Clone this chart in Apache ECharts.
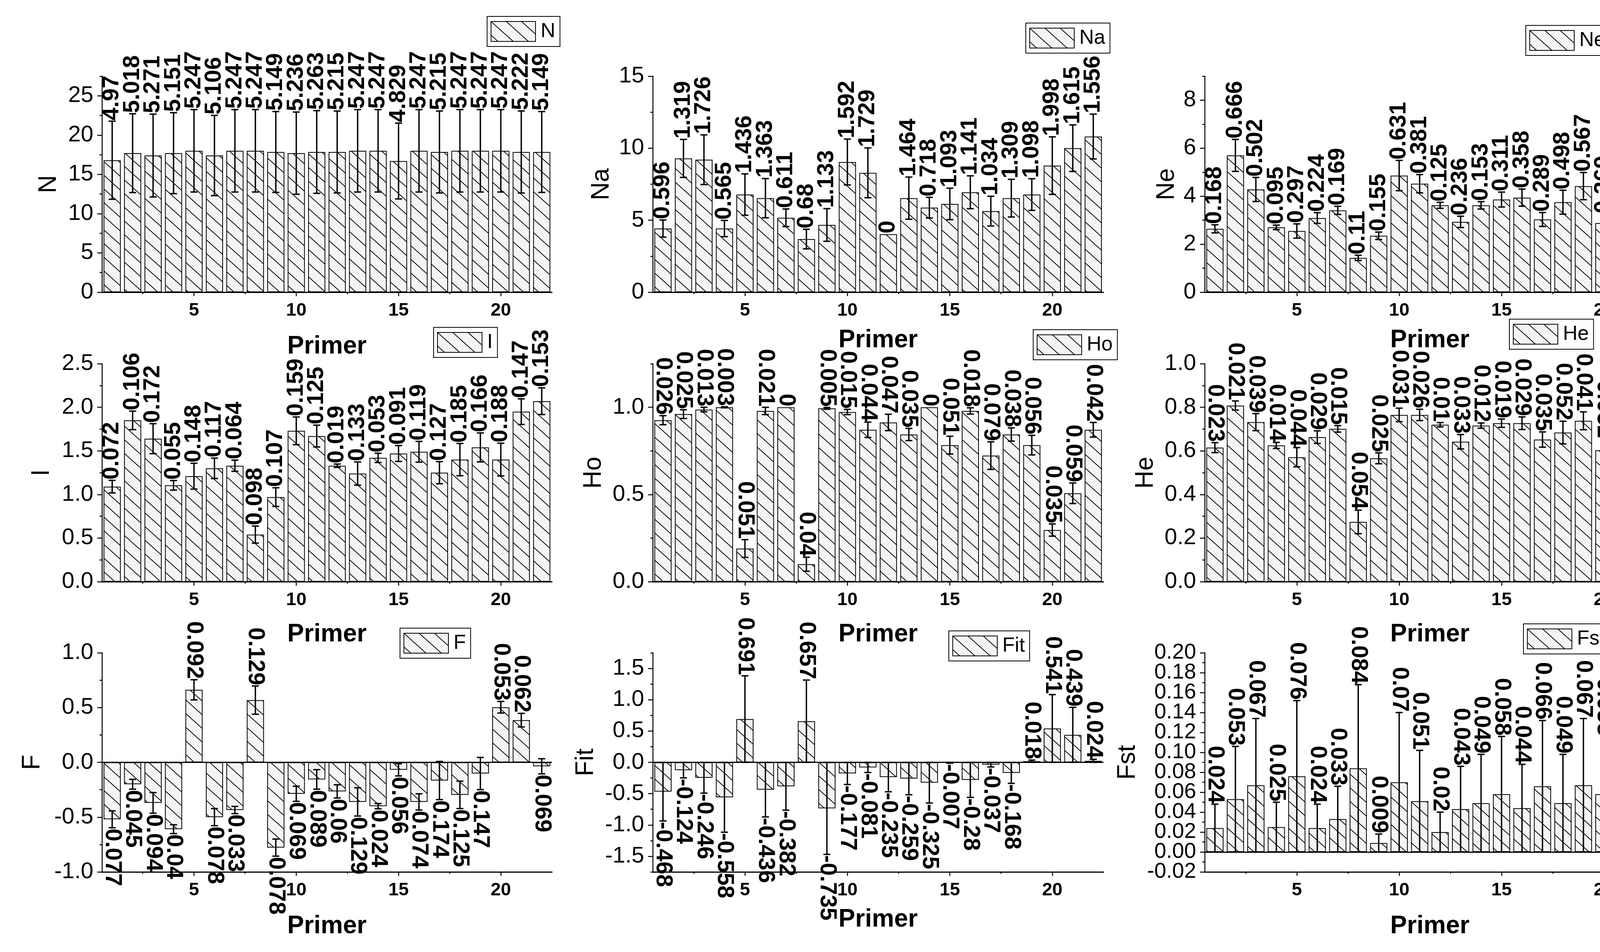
<!DOCTYPE html>
<html><head><meta charset="utf-8">
<script src="https://cdn.jsdelivr.net/npm/echarts@6/dist/echarts.min.js"></script>
<style>html,body{margin:0;padding:0;background:#fff}#c{width:4284px;height:2437px}</style>
</head><body><div id="c"></div>
<script>
// ---------------- data ----------------
const primer = [1,2,3,4,5,6,7,8,9,10,11,12,13,14,15,16,17,18,19,20,21,22];

const nMean = [16.8,17.7,17.4,17.7,18.0,17.4,18.0,18.0,17.85,17.7,17.85,17.85,18.0,18.0,16.7,18.0,17.85,18.0,18.0,18.0,17.85,17.85];
const nSd   = [4.97,5.018,5.271,5.151,5.247,5.106,5.247,5.247,5.149,5.236,5.263,5.215,5.247,5.247,4.829,5.247,5.215,5.247,5.247,5.247,5.222,5.149];

const naMean = [4.42,9.29,9.2,4.42,6.78,6.53,5.17,3.69,4.67,9.04,8.29,4.03,6.53,5.87,6.13,6.94,5.63,6.53,6.78,8.79,10.0,10.81];
const naSd   = [0.596,1.319,1.726,0.565,1.436,1.363,0.611,0.68,1.133,1.592,1.729,0,1.464,0.718,1.093,1.141,1.034,1.309,1.098,1.998,1.615,1.556];

const neMean = [2.64,5.70,4.28,2.70,2.55,3.09,3.41,1.43,2.35,4.86,4.52,3.62,2.93,3.62,3.86,3.94,3.03,3.75,4.42,2.88,6.22,7.24];
const neSd   = [0.168,0.666,0.502,0.095,0.297,0.224,0.169,0.11,0.155,0.631,0.381,0.125,0.236,0.153,0.311,0.358,0.289,0.498,0.567,0.369,0.681,0.814];

const iMean = [1.09,1.85,1.64,1.105,1.21,1.30,1.33,0.54,0.97,1.73,1.67,1.33,1.24,1.42,1.47,1.49,1.25,1.40,1.54,1.40,1.95,2.07];
const iSd   = [0.072,0.106,0.172,0.055,0.148,0.117,0.064,0.098,0.107,0.159,0.125,0.019,0.133,0.053,0.091,0.119,0.127,0.185,0.166,0.188,0.147,0.153];

const hoMean = [0.926,0.961,0.987,1.0,0.19,0.979,1.0,0.10,0.994,0.973,0.871,0.913,0.844,1.0,0.783,0.979,0.723,0.844,0.783,0.296,0.507,0.871];
const hoSd   = [0.026,0.025,0.013,0.003,0.051,0.021,0,0.04,0.005,0.015,0.044,0.047,0.035,0,0.051,0.018,0.079,0.038,0.056,0.035,0.059,0.042];

const heMean = [0.615,0.808,0.732,0.625,0.571,0.663,0.701,0.274,0.566,0.765,0.765,0.72,0.642,0.716,0.727,0.727,0.652,0.684,0.738,0.603,0.823,0.84];
const heSd   = [0.023,0.021,0.039,0.014,0.044,0.029,0.015,0.054,0.025,0.031,0.026,0.01,0.033,0.012,0.019,0.029,0.035,0.052,0.041,0.052,0.023,0.026];

const fMean = [-0.52,-0.20,-0.37,-0.61,0.662,-0.50,-0.435,0.568,-0.778,-0.287,-0.156,-0.265,-0.361,-0.40,-0.068,-0.361,-0.166,-0.297,-0.102,0.503,0.385,-0.036];
const fSd   = [0.077,0.045,0.094,0.04,0.092,0.078,0.033,0.129,0.078,0.069,0.089,0.06,0.129,0.024,0.056,0.074,0.174,0.125,0.147,0.053,0.062,0.069];

const fitMean = [-0.468,-0.124,-0.246,-0.558,0.691,-0.436,-0.382,0.657,-0.735,-0.177,-0.081,-0.235,-0.259,-0.325,-0.007,-0.28,-0.037,-0.168,0.018,0.541,0.439,0.024];
const fitSd   = [-0.468,-0.124,-0.246,-0.558,0.691,-0.436,-0.382,0.657,-0.735,-0.177,-0.081,-0.235,-0.259,-0.325,-0.007,-0.28,-0.037,-0.168,0.018,0.541,0.439,0.024];

const fstMean = [0.024,0.053,0.067,0.025,0.076,0.024,0.033,0.084,0.009,0.07,0.051,0.02,0.043,0.049,0.058,0.044,0.066,0.049,0.067,0.058,0.091,0.052];
const fstSd   = [0.024,0.053,0.067,0.025,0.076,0.024,0.033,0.084,0.009,0.07,0.051,0.02,0.043,0.049,0.058,0.044,0.066,0.049,0.067,0.058,0.091,0.052];

// tick labels
const xMajor = [5,10,15,20];
const xMinor = [2.5,7.5,12.5,17.5];
const yMajN = [0,5,10,15,20,25],            yMinN = [2.5,7.5,12.5,17.5,22.5,27.5];
const yMajNa = [0,5,10,15],                 yMinNa = [2.5,7.5,12.5];
const yMajNe = [0,2,4,6,8],                 yMinNe = [1,3,5,7,9];
const yMajI = [0,0.5,1,1.5,2,2.5],          yMinI = [0.25,0.75,1.25,1.75,2.25];
const yMajHo = [0,0.5,1],                   yMinHo = [0.25,0.75,1.25];
const yMajHe = [0,0.2,0.4,0.6,0.8,1],       yMinHe = [0.1,0.3,0.5,0.7,0.9];
const yMajF = [-1,-0.5,0,0.5,1],            yMinF = [-0.75,-0.25,0.25,0.75];
const yMajFit = [-1.5,-1,-0.5,0,0.5,1,1.5], yMinFit = [-1.75,-1.25,-0.75,-0.25,0.25,0.75,1.25,1.75];
const yMajFst = [-0.02,0,0.02,0.04,0.06,0.08,0.1,0.12,0.14,0.16,0.18,0.2];
const yMinFst = [-0.01,0.01,0.03,0.05,0.07,0.09,0.11,0.13,0.15,0.17,0.19];

// ---------------- layout ----------------
const FONT = '"Liberation Sans", Arial, sans-serif';
const cols = [{left:261,width:1152},{left:1671,width:1154},{left:3084,width:1153}];
const rows = [{top:195,height:553},{top:931,height:558},{top:1671,height:561}];

const panels = [
 {name:'N',  mean:nMean,  sd:nSd,  c:0,r:0, ymin:0,ymax:27.5, maj:yMajN,  min:yMinN,  dec:0, lab:'up',   yGap:104, xGap:107, lg:[1247,42]},
 {name:'Na', mean:naMean, sd:naSd, c:1,r:0, ymin:0,ymax:15,   maj:yMajNa, min:yMinNa, dec:0, lab:'up',   yGap:99,  xGap:91,  lg:[2626,59]},
 {name:'Ne', mean:neMean, sd:neSd, c:2,r:0, ymin:0,ymax:9,    maj:yMajNe, min:yMinNe, dec:0, lab:'up',   yGap:65,  xGap:91,  lg:[3906,65]},
 {name:'I',  mean:iMean,  sd:iSd,  c:0,r:1, ymin:0,ymax:2.5,  maj:yMajI,  min:yMinI,  dec:1, lab:'up',   yGap:122, xGap:103, lg:[1110,838]},
 {name:'Ho', mean:hoMean, sd:hoSd, c:1,r:1, ymin:0,ymax:1.25, maj:yMajHo, min:yMinHo, dec:1, lab:'down', yGap:119, xGap:103, lg:[2645,844]},
 {name:'He', mean:heMean, sd:heSd, c:2,r:1, ymin:0,ymax:1.0,  maj:yMajHe, min:yMinHe, dec:1, lab:'down', yGap:119, xGap:103, lg:[3864,817]},
 {name:'F',  mean:fMean,  sd:fSd,  c:0,r:2, ymin:-1,ymax:1,   maj:yMajF,  min:yMinF,  dec:1, lab:'down', yGap:146, xGap:107, lg:[1024,1608], zero:true},
 {name:'Fit',mean:fitMean,sd:fitSd,c:1,r:2, ymin:-1.75,ymax:1.75, maj:yMajFit, min:yMinFit, dec:1, lab:'down', yGap:139, xGap:90, lg:[2429,1615], zero:true},
 {name:'Fst',mean:fstMean,sd:fstSd,c:2,r:2, ymin:-0.02,ymax:0.2, maj:yMajFst, min:yMinFst, dec:2, lab:'down', yGap:165, xGap:107, lg:[3900,1597], zero:true, yfs:55, split:true}
];

// hatch pattern
const TW = 39, TH = 35;
const tile = document.createElement('canvas');
tile.width = TW; tile.height = TH;
const tctx = tile.getContext('2d');
tctx.fillStyle = '#f4f4f4'; tctx.fillRect(0,0,TW,TH);
tctx.strokeStyle = '#000'; tctx.lineWidth = 2;
for (let k=-1;k<=1;k++){
  tctx.beginPath();
  tctx.moveTo(k*TW - TW, -TH);
  tctx.lineTo(k*TW + 2*TW, 2*TH);
  tctx.stroke();
}
const hatch = {image: tile, repeat: 'repeat'};

function makeRender(p){
  return function(params, api){
    const x = api.value(0), v = api.value(1), e = Math.abs(api.value(2));
    const hi = api.coord([x, v + e]);
    const lo = api.coord([x, v - e]);
    const cx = hi[0];
    const ch = [];
    const ls = {stroke:'#000', lineWidth:3.5};
    if (e > 0){
      ch.push({type:'line', shape:{x1:cx,y1:hi[1],x2:cx,y2:lo[1]}, style:ls});
      ch.push({type:'line', shape:{x1:cx-9,y1:hi[1],x2:cx+9,y2:hi[1]}, style:ls});
      ch.push({type:'line', shape:{x1:cx-9,y1:lo[1],x2:cx+9,y2:lo[1]}, style:ls});
    }
    const txt = String(p.sd[params.dataIndex]);
    const ts = {text:txt, fontSize:59, fontWeight:'bold', fontFamily:FONT, fill:'#000', verticalAlign:'middle'};
    if (p.lab === 'up'){
      ch.push({type:'text', x:cx, y:hi[1]-2, rotation:Math.PI/2, style:Object.assign({align:'left'}, ts)});
    } else if (v >= 0){
      ch.push({type:'text', x:cx, y:hi[1]-2, rotation:-Math.PI/2, style:Object.assign({align:'right'}, ts)});
    } else {
      ch.push({type:'text', x:cx, y:lo[1]+2, rotation:-Math.PI/2, style:Object.assign({align:'left'}, ts)});
    }
    return {type:'group', children:ch};
  };
}

const grid=[], xAxis=[], yAxis=[], series=[], legend=[];
const axisLS = {color:'#000', width:2.5};
panels.forEach((p,i)=>{
  const gi = grid.length;
  grid.push({left:cols[p.c].left, width:cols[p.c].width, top:rows[p.r].top, height:rows[p.r].height, containLabel:false});
  const xi = xAxis.length, yi = yAxis.length;
  xAxis.push({type:'value', gridIndex:gi, position:'bottom', min:0.5, max:22.5,
    axisLine:{show:true, onZero:false, lineStyle:{color:'#000', width:3}},
    axisTick:{show:true, customValues:xMajor, length:10, lineStyle:axisLS},
    axisLabel:{show:true, customValues:xMajor, fontSize:47, fontWeight:'bold', color:'#000', fontFamily:FONT, margin:24},
    splitLine:{show:false},
    name:'Primer', nameLocation:'middle', nameGap:p.xGap,
    nameTextStyle:{fontSize:64, fontWeight:'bold', color:'#000', fontFamily:FONT}});
  xAxis.push({type:'value', gridIndex:gi, position:'bottom', min:0.5, max:22.5,
    axisLine:{show:false, onZero:false},
    axisTick:{show:true, customValues:xMinor, length:5, lineStyle:axisLS},
    axisLabel:{show:false}, splitLine:{show:false}});
  const labA = p.split ? p.maj.filter((v,k)=>k%2===0) : p.maj;
  const labB = p.split ? p.maj.filter((v,k)=>k%2===1) : null;
  const labStyle = {show:true, showMinLabel:true, showMaxLabel:true, hideOverlap:false,
      formatter:(v)=>Number(v).toFixed(p.dec), fontSize:p.yfs||58, color:'#000', fontFamily:FONT, margin:22};
  yAxis.push({type:'value', gridIndex:gi, position:'left', min:p.ymin, max:p.ymax,
    axisLine:{show:true, onZero:false, lineStyle:axisLS},
    axisTick:{show:true, customValues:p.maj, length:12, lineStyle:axisLS},
    axisLabel:Object.assign({customValues:labA}, labStyle),
    splitLine:{show:false},
    name:p.name, nameLocation:'middle', nameGap:p.yGap, nameRotate:90,
    nameTextStyle:{fontSize:64, color:'#000', fontFamily:FONT}});
  yAxis.push({type:'value', gridIndex:gi, position:'left', min:p.ymin, max:p.ymax,
    axisLine:{show:false, onZero:false},
    axisTick:{show:true, customValues:p.min, length:6, lineStyle:axisLS},
    axisLabel:{show:false}, splitLine:{show:false}});
  if (labB){
    yAxis.push({type:'value', gridIndex:gi, position:'left', min:p.ymin, max:p.ymax,
      axisLine:{show:false, onZero:false}, axisTick:{show:false},
      axisLabel:Object.assign({customValues:labB}, labStyle), splitLine:{show:false}});
  }
  const bar = {type:'bar', name:p.name, xAxisIndex:xi, yAxisIndex:yi,
    data: primer.map((x,k)=>[x, p.mean[k]]), barWidth:44,
    itemStyle:{color:hatch, borderColor:'#000', borderWidth:2}, z:2, silent:true};
  if (p.zero){
    bar.markLine = {silent:true, symbol:['none','none'], label:{show:false},
      lineStyle:{color:'#000', width:3, type:'solid'}, data:[{yAxis:0}]};
  }
  series.push(bar);
  series.push({type:'custom', xAxisIndex:xi, yAxisIndex:yi, clip:false, silent:true, z:5,
    data: primer.map((x,k)=>[x, p.mean[k], p.sd[k]]), renderItem:makeRender(p)});
  legend.push({data:[p.name], left:p.lg[0], top:p.lg[1], orient:'horizontal', icon:'rect',
    itemWidth:114, itemHeight:51, borderColor:'#000', borderWidth:2, padding:[12,12,12,9],
    selectedMode:false, textStyle:{fontSize:52, color:'#000', fontFamily:FONT, padding:[0,0,0,8]}});
});

const chart = echarts.init(document.getElementById('c'), null, {renderer:'canvas'});
chart.setOption({backgroundColor:'#fff', animation:false, grid, xAxis, yAxis, series, legend});
</script></body></html>
